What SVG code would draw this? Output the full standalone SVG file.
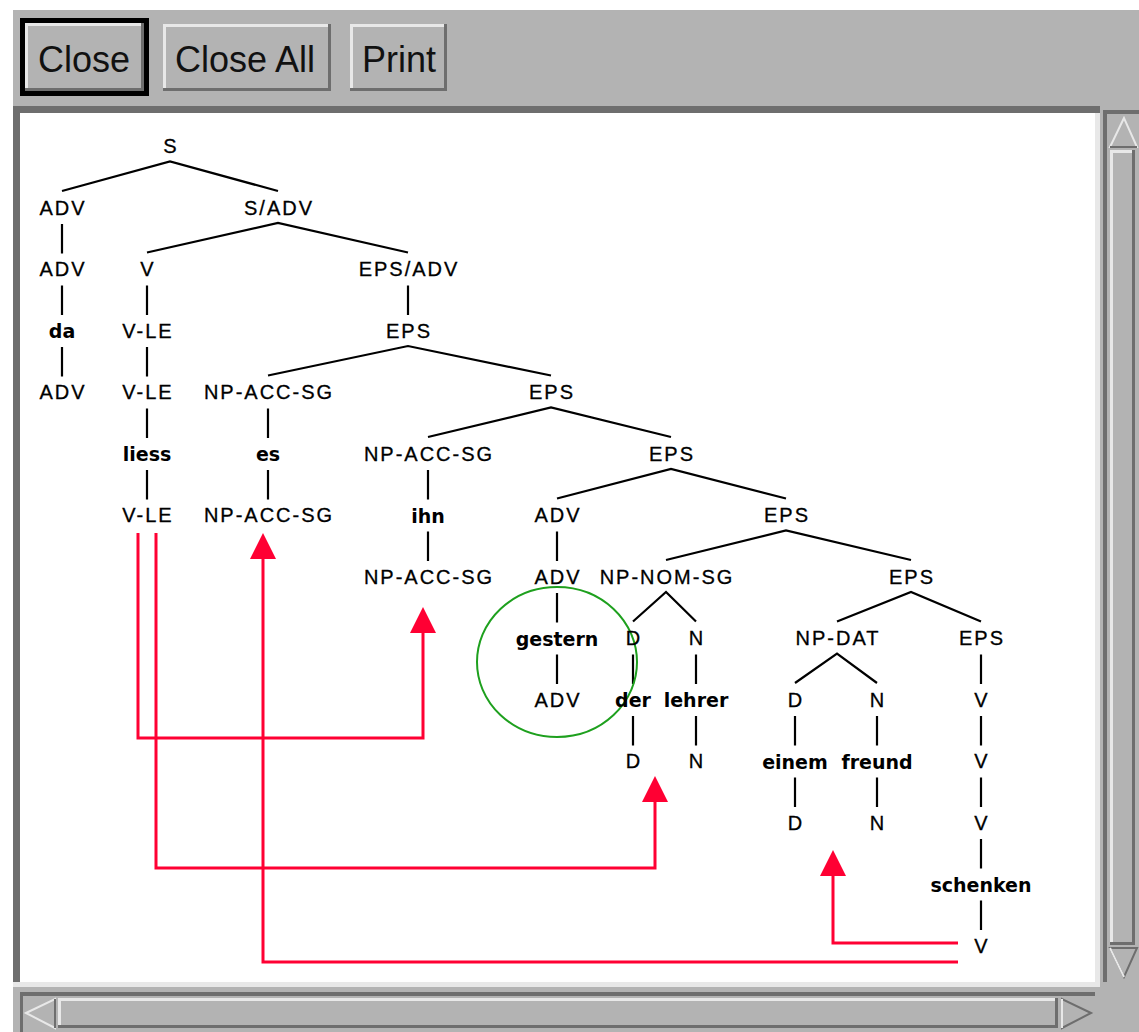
<svg xmlns="http://www.w3.org/2000/svg" width="1139" height="1032" viewBox="0 0 1139 1032">
<style>
.lbl{font-family:"Liberation Sans",Arial,sans-serif;font-size:20px;letter-spacing:2px;fill:#000;stroke:#000;stroke-width:0.3;text-anchor:middle}
.wd{font-family:"DejaVu Sans",sans-serif;font-size:19px;font-weight:bold;fill:#000;text-anchor:middle}
.btn{font-family:"Liberation Sans",Arial,sans-serif;font-size:36px;fill:#111}
.e{stroke:#000;stroke-width:2.2;fill:none}
.r{stroke:#ff0033;stroke-width:3;fill:none;marker-end:url(#ah)}
.lt{fill:#e8e8e8}.dk{fill:#6e6e6e}.gr{fill:#b3b3b3}
</style>
<defs>
<marker id="ah" viewBox="0 -13 26 26" refX="0" refY="0" markerWidth="26" markerHeight="26" markerUnits="userSpaceOnUse" orient="auto">
<path d="M0,-13 L26,0 L0,13 z" fill="#ff0033"/>
</marker>
</defs>
<rect width="1139" height="1032" fill="#fff"/>
<rect x="13" y="10" width="1126" height="1022" class="gr"/>
<g id="toolbar">
<g id="btn-close">
<rect x="20" y="18" width="129" height="78" fill="#000"/>
<rect x="25" y="23" width="119" height="68" class="gr"/>
<path d="M25,23 H144 V26 H28 V91 H25 z" class="lt"/>
<path d="M144,23 V91 H25 V88 H141 V23 z" class="dk"/>
<text x="38" y="72" class="btn">Close</text>
</g>
<g id="btn-closeall">
<rect x="163" y="24" width="168" height="67" class="gr"/>
<path d="M163,24 H331 V27 H166 V91 H163 z" class="lt"/>
<path d="M331,24 V91 H163 V88 H328 V24 z" class="dk"/>
<text x="175" y="72" class="btn">Close All</text>
</g>
<g id="btn-print">
<rect x="350" y="24" width="97" height="67" class="gr"/>
<path d="M350,24 H447 V27 H353 V91 H350 z" class="lt"/>
<path d="M447,24 V91 H350 V88 H444 V24 z" class="dk"/>
<text x="362" y="72" class="btn">Print</text>
</g>
</g>
<g id="canvas-frame">
<rect x="13" y="106" width="1087" height="881" class="dk"/>
<path d="M1100,106 V987 H13 V982 H1095 V113 H1100 z" class="lt"/>
<rect x="20" y="113" width="1075" height="869" fill="#fff"/>
</g>
<g id="vscroll">
<rect x="1103" y="110" width="36" height="872" class="dk"/>
<rect x="1107" y="114" width="32" height="868" class="gr"/>
<path d="M1124,118 L1110,147 L1137,147 z" class="gr" stroke="#e8e8e8" stroke-width="2"/>
<path d="M1110,147 L1137,147" stroke="#6e6e6e" stroke-width="2"/>
<rect x="1110" y="150" width="25" height="795" class="gr"/>
<path d="M1110,150 H1135 V153 H1113 V945 H1110 z" class="lt"/>
<path d="M1135,150 V945 H1110 V942 H1132 V150 z" class="dk"/>
<path d="M1124,977 L1110,948 L1137,948 z" class="gr" stroke="#6e6e6e" stroke-width="2"/>
<path d="M1110,948 L1124,977" stroke="#e8e8e8" stroke-width="2"/>
</g>
<g id="hscroll">
<rect x="20" y="992" width="1075" height="40" class="dk"/>
<rect x="23" y="996" width="1072" height="36" class="gr"/>
<path d="M26,1013 L55,999 L55,1028 z" class="gr" stroke="#e8e8e8" stroke-width="2"/>
<path d="M55,999 L55,1028" stroke="#6e6e6e" stroke-width="2"/>
<rect x="58" y="998" width="1000" height="30" class="gr"/>
<path d="M58,998 H1058 V1001 H61 V1028 H58 z" class="lt"/>
<path d="M1058,998 V1028 H58 V1025 H1055 V998 z" class="dk"/>
<path d="M1091,1013 L1062,999 L1062,1028 z" class="gr" stroke="#6e6e6e" stroke-width="2"/>
<path d="M1062,999 L1062,1028" stroke="#e8e8e8" stroke-width="2"/>
</g>
<g id="connectors">
<path class="e" d="M62,191 L170,161.5 L278,191"/>
<path class="e" d="M62,224 V253.5 M62,285.5 V315 M62,347 V376.5"/>
<path class="e" d="M147,252.5 L278,223 L408,252.5"/>
<path class="e" d="M147,285.5 V315 M147,347 V376.5 M147,408.5 V438 M147,470 V499.5"/>
<path class="e" d="M408,285.5 V315"/>
<path class="e" d="M268,375.5 L408,346 L551,375.5"/>
<path class="e" d="M268,408.5 V438 M268,470 V499.5"/>
<path class="e" d="M428,437 L551,407.5 L671,437"/>
<path class="e" d="M428,470 V499.5 M428,531.5 V561"/>
<path class="e" d="M557,498.5 L671,469 L786,498.5"/>
<path class="e" d="M557,531.5 V561 M557,593 V622.5 M557,654.5 V684"/>
<path class="e" d="M666,560 L786,530.5 L911,560"/>
<path class="e" d="M633,621.5 L666,592 L696,621.5"/>
<path class="e" d="M633,654.5 V684 M633,716 V745.5 M696,654.5 V684 M696,716 V745.5"/>
<path class="e" d="M837,621.5 L911,592 L981,621.5"/>
<path class="e" d="M795,683 L837,653.5 L877,683"/>
<path class="e" d="M795,716 V745.5 M795,777.5 V807 M877,716 V745.5 M877,777.5 V807"/>
<path class="e" d="M981,654.5 V684 M981,716 V745.5 M981,777.5 V807 M981,839 V868.5 M981,900.5 V930"/>
<path class="r" d="M138,533 V738 H423 V633"/>
<path class="r" d="M156,533 V868 H655 V802"/>
<path class="r" d="M958,962 H263 V559"/>
<path class="r" d="M958,943 H833 V876"/>
<ellipse cx="557" cy="662" rx="80" ry="75" fill="none" stroke="#1ea01e" stroke-width="2"/>
</g>
<g id="n0"><text class="lbl" x="171" y="153">S</text></g>
<g id="n1"><text class="lbl" x="63" y="214.5">ADV</text></g>
<g id="n2"><text class="lbl" x="279" y="214.5">S/ADV</text></g>
<g id="n3"><text class="lbl" x="63" y="276">ADV</text></g>
<g id="n4"><text class="wd" x="62" y="338">da</text></g>
<g id="n5"><text class="lbl" x="63" y="399">ADV</text></g>
<g id="n6"><text class="lbl" x="148" y="276">V</text></g>
<g id="n7"><text class="lbl" x="148" y="337.5">V-LE</text></g>
<g id="n8"><text class="lbl" x="148" y="399">V-LE</text></g>
<g id="n9"><text class="wd" x="147" y="461">liess</text></g>
<g id="n10"><text class="lbl" x="148" y="522">V-LE</text></g>
<g id="n11"><text class="lbl" x="409" y="276">EPS/ADV</text></g>
<g id="n12"><text class="lbl" x="409" y="337.5">EPS</text></g>
<g id="n13"><text class="lbl" x="269" y="399">NP-ACC-SG</text></g>
<g id="n14"><text class="wd" x="268" y="461">es</text></g>
<g id="n15"><text class="lbl" x="269" y="522">NP-ACC-SG</text></g>
<g id="n16"><text class="lbl" x="552" y="399">EPS</text></g>
<g id="n17"><text class="lbl" x="429" y="460.5">NP-ACC-SG</text></g>
<g id="n18"><text class="wd" x="428" y="522.5">ihn</text></g>
<g id="n19"><text class="lbl" x="429" y="583.5">NP-ACC-SG</text></g>
<g id="n20"><text class="lbl" x="672" y="460.5">EPS</text></g>
<g id="n21"><text class="lbl" x="558" y="522">ADV</text></g>
<g id="n22"><text class="lbl" x="558" y="583.5">ADV</text></g>
<g id="n23"><text class="wd" x="557" y="645.5">gestern</text></g>
<g id="n24"><text class="lbl" x="558" y="706.5">ADV</text></g>
<g id="n25"><text class="lbl" x="787" y="522">EPS</text></g>
<g id="n26"><text class="lbl" x="667" y="583.5">NP-NOM-SG</text></g>
<g id="n27"><text class="lbl" x="634" y="645">D</text></g>
<g id="n28"><text class="wd" x="633" y="707">der</text></g>
<g id="n29"><text class="lbl" x="634" y="768">D</text></g>
<g id="n30"><text class="lbl" x="697" y="645">N</text></g>
<g id="n31"><text class="wd" x="696" y="707">lehrer</text></g>
<g id="n32"><text class="lbl" x="697" y="768">N</text></g>
<g id="n33"><text class="lbl" x="912" y="583.5">EPS</text></g>
<g id="n34"><text class="lbl" x="838" y="645">NP-DAT</text></g>
<g id="n35"><text class="lbl" x="796" y="706.5">D</text></g>
<g id="n36"><text class="wd" x="795" y="768.5">einem</text></g>
<g id="n37"><text class="lbl" x="796" y="829.5">D</text></g>
<g id="n38"><text class="lbl" x="878" y="706.5">N</text></g>
<g id="n39"><text class="wd" x="877" y="768.5">freund</text></g>
<g id="n40"><text class="lbl" x="878" y="829.5">N</text></g>
<g id="n41"><text class="lbl" x="982" y="645">EPS</text></g>
<g id="n42"><text class="lbl" x="982" y="706.5">V</text></g>
<g id="n43"><text class="lbl" x="982" y="768">V</text></g>
<g id="n44"><text class="lbl" x="982" y="829.5">V</text></g>
<g id="n45"><text class="wd" x="981" y="891.5">schenken</text></g>
<g id="n46"><text class="lbl" x="982" y="952.5">V</text></g>
</svg>
